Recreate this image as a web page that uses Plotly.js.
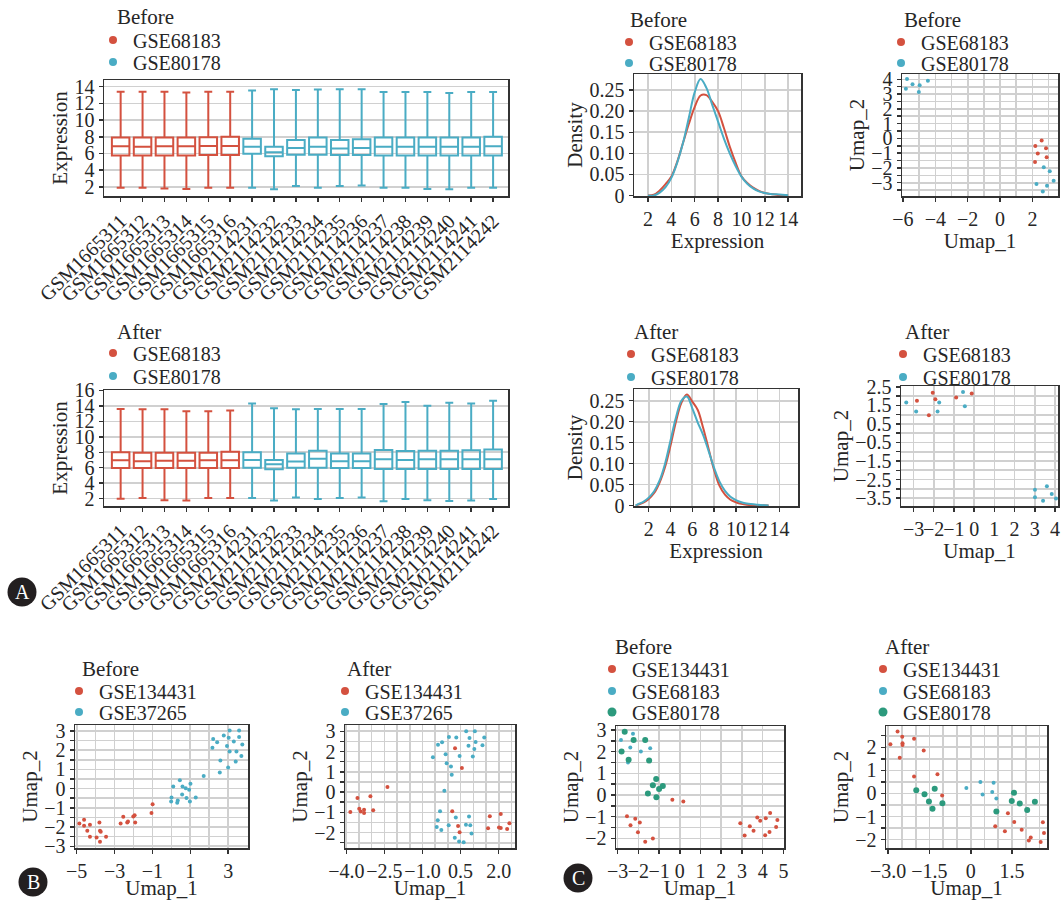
<!DOCTYPE html>
<html>
<head>
<meta charset="utf-8">
<script src="https://cdn.plot.ly/plotly-3.0.1.min.js"></script>
<style>html,body{margin:0;padding:0;background:#fff;}#chart{width:1061px;height:900px;}</style>
</head>
<body>
<div id="chart"></div>
<script>
// ---------------- DATA ----------------
const samplesGSE68183 = ['GSM1665311','GSM1665312','GSM1665313','GSM1665314','GSM1665315','GSM1665316'];
const samplesGSE80178 = ['GSM2114231','GSM2114232','GSM2114233','GSM2114234','GSM2114235','GSM2114236',
                         'GSM2114237','GSM2114238','GSM2114239','GSM2114240','GSM2114241','GSM2114242'];

// Box statistics, Before (first 6 = GSE68183, last 12 = GSE80178)
const boxBeforeQ1     = [5.75,5.75,5.75,5.75,5.8,5.8, 5.95,5.65,5.85,5.85,5.8,5.8, 5.75,5.75,5.75,5.75,5.75,5.75];
const boxBeforeMedian = [6.85,6.8,6.85,6.85,6.9,6.9, 6.8,6.15,6.65,6.8,6.6,6.65, 6.8,6.8,6.8,6.8,6.8,6.85];
const boxBeforeQ3     = [7.9,7.9,7.9,7.9,7.95,8.0, 7.75,6.8,7.6,7.9,7.6,7.7, 7.9,7.9,7.9,7.9,7.9,8.0];
const boxBeforeLower  = [1.9,1.9,1.8,1.75,1.9,1.9, 1.9,1.7,2.1,1.9,2.1,2.15, 1.9,1.9,1.75,1.7,1.9,1.9];
const boxBeforeUpper  = [13.4,13.4,13.4,13.3,13.4,13.4, 13.55,13.7,13.6,13.65,13.7,13.7, 13.35,13.35,13.35,13.25,13.35,13.35];

// Box statistics, After
const boxAfterQ1     = [5.95,5.95,5.95,5.95,5.95,5.95, 6.0,5.8,6.0,6.0,5.95,5.95, 5.85,5.85,5.85,5.85,5.85,5.85];
const boxAfterMedian = [6.95,6.85,6.9,6.9,6.95,6.95, 7.0,6.45,6.8,7.15,6.85,6.85, 7.1,7.0,7.1,7.1,7.1,7.1];
const boxAfterQ3     = [8.0,7.95,7.95,7.95,7.95,8.05, 8.0,7.0,7.85,8.2,7.85,7.85, 8.3,8.15,8.2,8.2,8.25,8.35];
const boxAfterLower  = [2.0,2.1,1.8,1.75,2.1,2.1, 2.1,1.75,2.15,1.95,2.1,2.15, 1.65,1.95,1.8,1.7,1.75,1.95];
const boxAfterUpper  = [13.6,13.55,13.55,13.3,13.3,13.4, 14.3,13.7,13.55,13.6,13.6,13.6, 14.25,14.5,14.0,14.4,14.3,14.65];

// Density curves
const densityBeforeX        = [2,2.5,3,3.5,4,4.5,5,5.5,6,6.5,7,7.5,8,8.5,9,9.5,10,10.5,11,11.5,12,12.5,13,13.5,14];
const densityBeforeGSE68183 = [0,0.002,0.012,0.027,0.045,0.08,0.125,0.17,0.21,0.237,0.238,0.222,0.2,0.16,0.116,0.078,0.046,0.03,0.019,0.011,0.006,0.004,0.002,0.001,0];
const densityBeforeGSE80178 = [0,0,0.007,0.02,0.042,0.078,0.125,0.185,0.245,0.276,0.255,0.215,0.175,0.135,0.1,0.07,0.045,0.028,0.017,0.01,0.006,0.004,0.003,0.002,0.001];

const densityAfterX        = [0.8,1,1.5,2,2.5,3,3.5,4,4.5,5,5.5,6,6.5,7,7.5,8,8.5,9,9.5,10,10.5,11,12,13];
const densityAfterGSE68183 = [0,0.002,0.007,0.016,0.03,0.055,0.092,0.143,0.2,0.245,0.265,0.248,0.228,0.185,0.135,0.085,0.047,0.026,0.014,0.008,0.004,0.002,0.001,0];
const densityAfterGSE80178 = [0,0.003,0.009,0.019,0.034,0.06,0.1,0.155,0.21,0.25,0.26,0.232,0.198,0.168,0.13,0.09,0.057,0.035,0.021,0.013,0.008,0.005,0.002,0];
const densityYTickVals = [0,0.05,0.10,0.15,0.20,0.25];
const densityYTickText = ['0','0.05','0.10','0.15','0.20','0.25'];

// UMAP A, Before
const umapA1_GSE68183_x = [2.57,2.18,2.84,2.33,2.88,2.16];
const umapA1_GSE68183_y = [-0.14,-0.52,-0.66,-1.02,-1.27,-1.59];
const umapA1_GSE80178_x = [-5.75,-5.41,-5.82,-4.97,-5.02,-4.46,2.70,3.07,2.25,2.90,2.64,3.31];
const umapA1_GSE80178_y = [4.02,3.66,3.36,3.59,3.14,3.91,-1.95,-2.23,-3.09,-3.20,-3.59,-2.86];
// UMAP A, After
const umapA2_GSE68183_x = [-2.05,-2.83,-1.92,-2.24,-0.89,-0.12];
const umapA2_GSE68183_y = [2.18,1.75,1.84,0.97,1.93,2.14];
const umapA2_GSE80178_x = [-3.36,-2.87,-1.73,-1.81,-0.55,-0.46,3.01,3.01,3.6,3.84,3.41,4.05];
const umapA2_GSE80178_y = [1.66,1.17,1.66,1.17,2.23,1.46,-3.05,-3.46,-2.87,-3.28,-3.65,-3.52];
const umapA2_YTickVals = [2.5,1.5,0.5,-0.5,-1.5,-2.5,-3.5];

// UMAP B, Before
const umapB1_GSE134431_x = [-4.86,-4.61,-4.61,-4.30,-4.44,-4.30,-3.95,-3.80,-3.77,-3.73,-3.77,-3.45,-2.68,-2.54,-2.33,-2.29,-2.01,-1.94,-1.91,-1.05,-0.99];
const umapB1_GSE134431_y = [-1.81,-1.62,-1.93,-1.88,-2.19,-2.50,-2.54,-1.76,-2.19,-2.24,-2.76,-2.50,-1.81,-1.46,-1.76,-1.71,-1.45,-1.39,-1.76,-1.27,-0.82];
const umapB1_GSE37265_x = [3.08,3.58,2.21,2.42,2.77,3.03,3.58,3.30,3.75,2.17,2.94,3.08,3.44,3.70,2.59,3.40,3.0,2.56,1.71,
                           0.45,1.01,0.10,0.59,0.76,0.94,0.57,0.01,0.80,1.29,0.34,0.98,-0.01,0.31];
const umapB1_GSE37265_y = [3.02,3.02,2.58,2.41,2.76,2.65,2.69,2.45,2.29,2.13,2.22,1.93,1.93,1.70,1.46,1.41,1.10,0.84,0.65,
                           0.44,0.25,0.11,0.11,0.02,-0.06,-0.30,-0.46,-0.49,-0.46,-0.62,-0.67,-0.67,-0.74];
// UMAP B, After
const umapB2_GSE134431_x = [-3.84,-3.56,-3.49,-3.43,-3.30,-3.30,-3.05,-2.94,-2.38,0.28,0.55,0.17,0.40,0.46,1.65,2.08,1.58,2.01,2.08,2.33,2.42];
const umapB2_GSE134431_y = [-0.98,-0.29,-0.82,-0.96,-0.87,-1.03,-0.21,-0.90,0.25,2.16,1.19,-0.95,-1.67,-1.98,-1.19,-1.08,-1.79,-1.75,-1.77,-1.82,-1.54];
const umapB2_GSE37265_x = [0.72,1.06,0.04,0.33,0.85,1.43,-0.23,-0.39,1.09,0.81,1.36,1.04,-0.09,0.46,-0.59,0.98,-0.05,0.12,0.15,-0.14,
                           -0.31,-0.40,0.31,0.83,0.03,0.71,0.88,-0.44,-0.26,0.93,0.27,0.44,0.62];
const umapB2_GSE37265_y = [3.0,3.0,2.72,2.69,2.67,2.69,2.46,2.34,2.47,2.28,2.31,2.13,1.87,1.78,1.72,1.75,1.42,1.26,0.85,0.07,
                           -0.95,-1.39,-1.26,-1.21,-1.64,-1.61,-1.64,-1.72,-1.87,-2.05,-2.25,-2.44,-2.48];

// UMAP C, Before
const umapC1_GSE134431_x = [-0.36,0.17,-2.55,-2.15,-1.93,-2.38,-2.02,-1.67,-1.30,2.92,3.13,3.38,3.56,3.74,3.88,4.15,4.36,4.71,4.65,4.33,4.12];
const umapC1_GSE134431_y = [-0.22,-0.30,-0.98,-1.09,-1.26,-1.39,-1.71,-2.15,-2.0,-1.30,-1.86,-1.44,-1.65,-1.03,-1.18,-1.07,-0.83,-1.15,-1.47,-1.70,-1.85];
const umapC1_GSE68183_x = [-2.26,-2.84,-2.39,-1.88,-1.43,-2.50];
const umapC1_GSE68183_y = [2.82,2.53,2.19,2.01,2.15,1.50];
const umapC1_GSE80178_x = [-2.66,-2.23,-1.67,-2.81,-2.47,-1.48,-1.14,-1.30,-1.0,-0.82,-1.54,-1.13];
const umapC1_GSE80178_y = [2.92,2.53,2.53,2.01,1.62,1.59,0.74,0.45,0.28,0.42,0.07,-0.10];
// UMAP C, After
const umapC2_GSE134431_x = [-2.66,-2.49,-2.92,-2.48,-2.48,-2.06,-2.58,-1.71,-2.06,-1.21,-1.04,0.89,1.24,1.35,1.58,1.85,2.11,2.18,2.54,2.62,2.66];
const umapC2_GSE134431_y = [2.68,2.46,2.13,2.17,2.10,2.37,1.55,1.86,0.73,0.83,-0.09,-1.42,-1.64,-0.86,-1.24,-1.57,-2.04,-1.91,-2.10,-1.25,-1.71];
const umapC2_GSE68183_x = [-0.16,0.35,0.43,0.83,0.78,0.93];
const umapC2_GSE68183_y = [0.24,0.50,-0.04,0.46,0.06,-0.22];
const umapC2_GSE80178_x = [-1.98,-1.68,-1.31,-1.52,-1.39,-1.03,1.57,1.49,1.78,0.93,2.05,2.33];
const umapC2_GSE80178_y = [0.14,-0.03,0.20,-0.35,-0.66,-0.42,0.03,-0.33,-0.43,-0.78,-0.72,-0.36];
const umapC2_XTickVals = [-3.0,-1.5,0,1.5];
const umapC2_XTickText = ['−3.0','−1.5','0','1.5'];

// ---------------- STYLE / LAYOUT ----------------
const W = 1061, H = 900;
const FONT = '"Liberation Serif", "Times New Roman", serif';
const RED = '#D4513F', BLUE = '#4AACC4', GREEN = '#2C9A7D';
const GRID = '#D0D0D0', INK = '#262626';
const fx = p => p / W;
const fy = p => 1 - p / H;

const traces = [];
const layout = {
  width: W, height: H, autosize: false,
  margin: {l: 0, r: 0, t: 0, b: 0, pad: 0},
  paper_bgcolor: '#fff', plot_bgcolor: '#fff',
  showlegend: true, boxmode: 'overlay',
  font: {family: FONT, size: 20, color: INK},
  annotations: [], shapes: []
};

function axisBase(extra) {
  return Object.assign({
    showline: true, mirror: true, linecolor: '#333', linewidth: 1.5,
    ticks: 'outside', ticklen: 4, tickwidth: 1.5, tickcolor: '#333',
    showgrid: true, gridcolor: GRID, gridwidth: 1.6, zeroline: false, tickangle: 0,
    tickfont: {family: FONT, size: 20, color: INK},
    automargin: false, fixedrange: true
  }, extra);
}

function setAxes(i, box, xopt, yopt, xtitle, ytitle) {
  const xk = i === 1 ? 'xaxis' : 'xaxis' + i;
  const yk = i === 1 ? 'yaxis' : 'yaxis' + i;
  const xa = axisBase(Object.assign({domain: [fx(box[0]), fx(box[1])], anchor: 'y' + (i === 1 ? '' : i)}, xopt));
  const ya = axisBase(Object.assign({domain: [fy(box[3]), fy(box[2])], anchor: 'x' + (i === 1 ? '' : i)}, yopt));
  if (xtitle) xa.title = {text: xtitle, font: {family: FONT, size: 21, color: INK}, standoff: 0};
  if (ytitle) ya.title = {text: ytitle, font: {family: FONT, size: 21, color: INK}, standoff: 1};
  layout[xk] = xa; layout[yk] = ya;
}
const ax = i => (i === 1 ? '' : String(i));

let legendCount = 0;
function legendEntry(i, name, color, size, dotX, dotY) {
  legendCount++;
  const key = legendCount === 1 ? 'legend' : 'legend' + legendCount;
  layout[key] = {
    x: fx(dotX - 24), xanchor: 'left', y: fy(dotY), yanchor: 'middle',
    bgcolor: 'rgba(0,0,0,0)', borderwidth: 0, itemwidth: 30,
    font: {family: FONT, size: 20, color: INK}
  };
  traces.push({type: 'scatter', mode: 'markers', x: [null], y: [null],
    xaxis: 'x' + ax(i), yaxis: 'y' + ax(i), name: name, legend: key,
    marker: {color: color, size: size}, showlegend: true, hoverinfo: 'skip'});
}
function panelTitle(text, x, y) {
  layout.annotations.push({text: text, xref: 'paper', yref: 'paper', x: fx(x), y: fy(y),
    xanchor: 'left', yanchor: 'middle', showarrow: false, font: {family: FONT, size: 21, color: INK}});
}
function badge(letter, cx, cy, r) {
  layout.shapes.push({type: 'circle', xref: 'paper', yref: 'paper',
    x0: fx(cx - r), x1: fx(cx + r), y0: fy(cy + r), y1: fy(cy - r),
    fillcolor: '#231F20', line: {width: 0}});
  layout.annotations.push({text: letter, xref: 'paper', yref: 'paper', x: fx(cx), y: fy(cy),
    xanchor: 'center', yanchor: 'middle', showarrow: false, font: {family: FONT, size: 20, color: '#fff'}});
}

function boxTrace(i, names, q1, med, q3, lo, hi, color) {
  traces.push({type: 'box', x: names, q1: q1, median: med, q3: q3, lowerfence: lo, upperfence: hi,
    xaxis: 'x' + ax(i), yaxis: 'y' + ax(i), showlegend: false, width: 0.8, whiskerwidth: 0.45,
    line: {color: color, width: 2}, fillcolor: 'rgba(255,255,255,0)', hoverinfo: 'skip'});
}
function lineTrace(i, x, y, color) {
  traces.push({type: 'scatter', mode: 'lines', x: x, y: y, xaxis: 'x' + ax(i), yaxis: 'y' + ax(i),
    showlegend: false, line: {color: color, width: 2, shape: 'spline', smoothing: 1}, hoverinfo: 'skip'});
}
function ptsTrace(i, x, y, color, size) {
  traces.push({type: 'scatter', mode: 'markers', x: x, y: y, xaxis: 'x' + ax(i), yaxis: 'y' + ax(i),
    showlegend: false, marker: {color: color, size: size, line: {width: 0}}, hoverinfo: 'skip'});
}
const sl = (a, s, e) => a.slice(s, e);
const minorGrid = (d, ticks) => ({dtick: d, showgrid: true, gridcolor: GRID, gridwidth: 1.6,
  ticks: ticks ? 'outside' : '', ticklen: 4, tickcolor: '#333', tickwidth: 1.5});
const allSamples = samplesGSE68183.concat(samplesGSE80178);
const boxX = {type: 'category', range: [-0.76, 17.68], tickangle: -45, showgrid: false,
  tickmode: 'array', tickvals: allSamples, ticktext: allSamples};

// ---- Panel 1: box Before ----
setAxes(1, [104, 508, 80, 196], boxX,
  {range: [0.9, 14.8], dtick: 2, tick0: 0}, null, 'Expression');
boxTrace(1, samplesGSE68183, sl(boxBeforeQ1,0,6), sl(boxBeforeMedian,0,6), sl(boxBeforeQ3,0,6), sl(boxBeforeLower,0,6), sl(boxBeforeUpper,0,6), RED);
boxTrace(1, samplesGSE80178, sl(boxBeforeQ1,6), sl(boxBeforeMedian,6), sl(boxBeforeQ3,6), sl(boxBeforeLower,6), sl(boxBeforeUpper,6), BLUE);
panelTitle('Before', 115, 17);
legendEntry(1, 'GSE68183', RED, 8, 117, 40);
legendEntry(1, 'GSE80178', BLUE, 8, 117, 62);

// ---- Panel 2: density Before ----
setAxes(2, [634, 801, 74, 196],
  {range: [0.8, 15.1], dtick: 2, tick0: 0},
  {range: [-0.001, 0.288], tickvals: densityYTickVals, ticktext: densityYTickText}, 'Expression', 'Density');
lineTrace(2, densityBeforeX, densityBeforeGSE68183, RED);
lineTrace(2, densityBeforeX, densityBeforeGSE80178, BLUE);
panelTitle('Before', 628, 20);
legendEntry(2, 'GSE68183', RED, 8, 633, 42);
legendEntry(2, 'GSE80178', BLUE, 8, 633, 63);

// ---- Panel 3: UMAP Before ----
setAxes(3, [902, 1058, 74, 196],
  {range: [-6.06, 3.58], dtick: 2, tick0: 0, minor: minorGrid(1, false)},
  {range: [-3.9, 4.36], dtick: 1, tick0: 0, minor: minorGrid(0.5, true)}, 'Umap_1', 'Umap_2');
ptsTrace(3, umapA1_GSE68183_x, umapA1_GSE68183_y, RED, 4);
ptsTrace(3, umapA1_GSE80178_x, umapA1_GSE80178_y, BLUE, 4);
panelTitle('Before', 902, 20);
legendEntry(3, 'GSE68183', RED, 8, 905, 42);
legendEntry(3, 'GSE80178', BLUE, 8, 905, 63);

// ---- Panel 4: box After ----
setAxes(4, [104, 508, 390, 506], boxX,
  {range: [1.05, 16.05], dtick: 2, tick0: 0}, null, 'Expression');
boxTrace(4, samplesGSE68183, sl(boxAfterQ1,0,6), sl(boxAfterMedian,0,6), sl(boxAfterQ3,0,6), sl(boxAfterLower,0,6), sl(boxAfterUpper,0,6), RED);
boxTrace(4, samplesGSE80178, sl(boxAfterQ1,6), sl(boxAfterMedian,6), sl(boxAfterQ3,6), sl(boxAfterLower,6), sl(boxAfterUpper,6), BLUE);
panelTitle('After', 115, 332);
legendEntry(4, 'GSE68183', RED, 8, 117, 353);
legendEntry(4, 'GSE80178', BLUE, 8, 117, 376);

// ---- Panel 5: density After ----
setAxes(5, [634, 798, 389, 506],
  {range: [0.65, 15.7], dtick: 2, tick0: 0},
  {range: [-0.001, 0.278], tickvals: densityYTickVals, ticktext: densityYTickText}, 'Expression', 'Density');
lineTrace(5, densityAfterX, densityAfterGSE68183, RED);
lineTrace(5, densityAfterX, densityAfterGSE80178, BLUE);
panelTitle('After', 632, 332);
legendEntry(5, 'GSE68183', RED, 8, 635, 354);
legendEntry(5, 'GSE80178', BLUE, 8, 635, 377);

// ---- Panel 6: UMAP After ----
setAxes(6, [901, 1058, 386, 506],
  {range: [-3.62, 4.15], dtick: 1, tick0: 0},
  {range: [-3.93, 2.55], tickmode: 'array', tickvals: umapA2_YTickVals, tickformat: '.1f', minor: minorGrid(0.5, true)}, 'Umap_1', 'Umap_2');
ptsTrace(6, umapA2_GSE68183_x, umapA2_GSE68183_y, RED, 4);
ptsTrace(6, umapA2_GSE80178_x, umapA2_GSE80178_y, BLUE, 4);
panelTitle('After', 903, 332);
legendEntry(6, 'GSE68183', RED, 8, 907, 354);
legendEntry(6, 'GSE80178', BLUE, 8, 907, 377);

// ---- Panel 7: B Before ----
setAxes(7, [75, 248, 725, 848],
  {range: [-5.09, 4.05], dtick: 2, tick0: -5, minor: minorGrid(1, false)},
  {range: [-3.09, 3.31], dtick: 1, tick0: 0, minor: minorGrid(0.5, true)}, 'Umap_1', 'Umap_2');
ptsTrace(7, umapB1_GSE134431_x, umapB1_GSE134431_y, RED, 4);
ptsTrace(7, umapB1_GSE37265_x, umapB1_GSE37265_y, BLUE, 4);
panelTitle('Before', 80, 669);
legendEntry(7, 'GSE134431', RED, 8, 83, 691);
legendEntry(7, 'GSE37265', BLUE, 8, 83, 712);

// ---- Panel 8: B After ----
setAxes(8, [345, 515, 725, 848],
  {range: [-4.05, 2.64], dtick: 1.5, tick0: -4, tickformat: '.1f', minor: minorGrid(0.5, false)},
  {range: [-2.76, 3.31], dtick: 1, tick0: 0, minor: minorGrid(0.5, true)}, 'Umap_1', 'Umap_2');
ptsTrace(8, umapB2_GSE134431_x, umapB2_GSE134431_y, RED, 4);
ptsTrace(8, umapB2_GSE37265_x, umapB2_GSE37265_y, BLUE, 4);
panelTitle('After', 345, 669);
legendEntry(8, 'GSE134431', RED, 8, 349, 691);
legendEntry(8, 'GSE37265', BLUE, 8, 349, 712);

// ---- Panel 9: C Before ----
setAxes(9, [616, 784, 726, 848],
  {range: [-3.08, 5.03], dtick: 1, tick0: 0},
  {range: [-2.44, 3.18], dtick: 1, tick0: 0, minor: minorGrid(0.5, true)}, 'Umap_1', 'Umap_2');
ptsTrace(9, umapC1_GSE134431_x, umapC1_GSE134431_y, RED, 4);
ptsTrace(9, umapC1_GSE68183_x, umapC1_GSE68183_y, BLUE, 4);
ptsTrace(9, umapC1_GSE80178_x, umapC1_GSE80178_y, GREEN, 6);
panelTitle('Before', 613, 647);
legendEntry(9, 'GSE134431', RED, 8, 616, 669);
legendEntry(9, 'GSE68183', BLUE, 8, 616, 691);
legendEntry(9, 'GSE80178', GREEN, 9, 616, 712);

// ---- Panel 10: C After ----
setAxes(10, [886, 1047, 726, 848],
  {range: [-3.08, 2.77], tickmode: 'array', tickvals: umapC2_XTickVals, ticktext: umapC2_XTickText, minor: minorGrid(0.5, false)},
  {range: [-2.36, 2.92], dtick: 1, tick0: 0, minor: minorGrid(0.5, true)}, 'Umap_1', 'Umap_2');
ptsTrace(10, umapC2_GSE134431_x, umapC2_GSE134431_y, RED, 4);
ptsTrace(10, umapC2_GSE68183_x, umapC2_GSE68183_y, BLUE, 4);
ptsTrace(10, umapC2_GSE80178_x, umapC2_GSE80178_y, GREEN, 6);
panelTitle('After', 883, 647);
legendEntry(10, 'GSE134431', RED, 8, 887, 669);
legendEntry(10, 'GSE68183', BLUE, 8, 887, 691);
legendEntry(10, 'GSE80178', GREEN, 9, 887, 712);

// Panel badges
badge('A', 22, 592, 14.5);
badge('B', 33, 882, 14.5);
badge('C', 578, 878, 14.5);

Plotly.newPlot('chart', traces, layout, {staticPlot: true, displayModeBar: false});
</script>
</body>
</html>
